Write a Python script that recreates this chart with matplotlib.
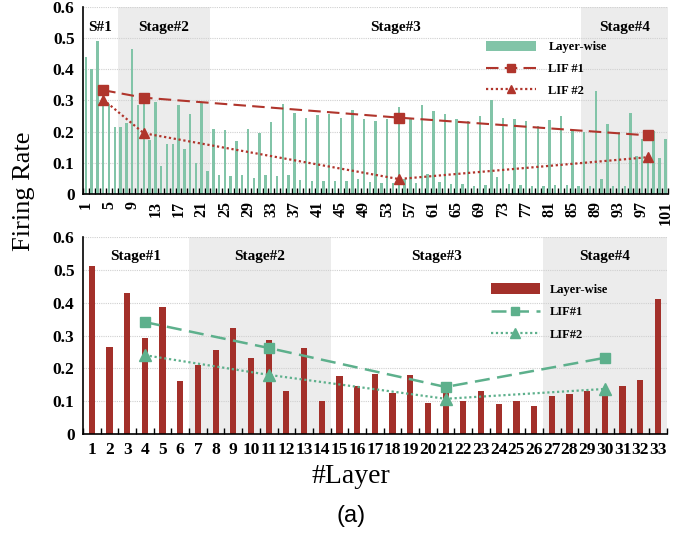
import numpy as np
import matplotlib
matplotlib.use('Agg')
import matplotlib.pyplot as plt
from matplotlib.lines import Line2D
import matplotlib.patches as mpatches

SERIF = ['Liberation Serif', 'DejaVu Serif']
GREEN = '#82C4A8'
GREEN_LINE = '#5DB08C'
RED = '#A3302A'
RED_LINE = '#B0352C'
SHADE = '#ECECEC'

# ---------------------------------------------------------------------------
# Data: top panel (101 layers)
# ---------------------------------------------------------------------------
top_layers = np.arange(1, 102)
top_rates = [
    0.441, 0.401, 0.490, 0.320, 0.288, 0.215, 0.215, 0.227, 0.466, 0.286,
    0.300, 0.174, 0.295, 0.089, 0.159, 0.159, 0.284, 0.144, 0.256, 0.101,
    0.291, 0.075, 0.209, 0.060, 0.205, 0.057, 0.169, 0.060, 0.209, 0.051,
    0.196, 0.060, 0.230, 0.057, 0.288, 0.060, 0.260, 0.045, 0.243, 0.043,
    0.254, 0.043, 0.258, 0.043, 0.244, 0.043, 0.271, 0.048, 0.241, 0.038,
    0.235, 0.034, 0.239, 0.034, 0.280, 0.049, 0.241, 0.034, 0.287, 0.065,
    0.265, 0.040, 0.256, 0.031, 0.241, 0.033, 0.234, 0.027, 0.251, 0.030,
    0.302, 0.054, 0.245, 0.032, 0.240, 0.029, 0.234, 0.026, 0.219, 0.026,
    0.237, 0.030, 0.249, 0.030, 0.206, 0.026, 0.199, 0.026, 0.329, 0.048,
    0.224, 0.026, 0.200, 0.026, 0.260, 0.123, 0.176, 0.125, 0.203, 0.116,
    0.178,
]
top_lif_x = [4, 11, 55, 98]
top_lif1 = [0.333, 0.309, 0.245, 0.188]
top_lif2 = [0.303, 0.195, 0.048, 0.118]
top_ticks = list(range(1, 102, 4))
top_stages = ['S#1', 'Stage#2', 'Stage#3', 'Stage#4']
top_stage_bounds = [(0.5, 6.5), (6.5, 22.5), (22.5, 86.5), (86.5, 101.5)]

# ---------------------------------------------------------------------------
# Data: bottom panel (33 layers)
# ---------------------------------------------------------------------------
bot_layers = np.arange(1, 34)
bot_rates = [
    0.513, 0.264, 0.431, 0.292, 0.388, 0.160, 0.209, 0.255, 0.324, 0.230,
    0.287, 0.131, 0.261, 0.099, 0.178, 0.146, 0.183, 0.125, 0.181, 0.094,
    0.130, 0.100, 0.130, 0.092, 0.100, 0.086, 0.114, 0.122, 0.132, 0.135,
    0.147, 0.165, 0.412,
]
bot_lif_x = [4, 11, 21, 30]
bot_lif1 = [0.341, 0.262, 0.143, 0.232]
bot_lif2 = [0.240, 0.180, 0.107, 0.137]
bot_stages = ['Stage#1', 'Stage#2', 'Stage#3', 'Stage#4']
bot_stage_bounds = [(0.5, 6.5), (6.5, 14.5), (14.5, 26.5), (26.5, 33.5)]


def style_axis(ax, xmax):
    ax.set_ylim(0, 0.6)
    ax.set_xlim(0.5, xmax)
    ax.set_yticks(np.arange(0, 0.61, 0.1))
    ax.set_yticklabels(['0', '0.1', '0.2', '0.3', '0.4', '0.5', '0.6'],
                       fontfamily=SERIF, fontweight='bold', fontsize=12.5)
    ax.tick_params(axis='y', length=0, pad=6)
    for y in np.arange(0.1, 0.61, 0.1):
        ax.axhline(y, color='#D0D0D0', linewidth=0.8, linestyle=(0, (1, 1)),
                   zorder=0.5)
    ax.spines['top'].set_visible(False)
    ax.spines['right'].set_visible(False)
    ax.spines['left'].set_linewidth(1.2)
    ax.spines['bottom'].set_linewidth(1.2)
    ax.set_xticks(np.arange(0.5, xmax + 0.01, 1.0), minor=True)
    ax.tick_params(axis='x', which='minor', direction='in', length=4,
                   width=1.0, color='black')
    ax.tick_params(axis='x', which='major', length=0)
    ax.set_facecolor('white')


def draw_stages(ax, names, bounds, shaded, y_text):
    for name, (a, b), sh in zip(names, bounds, shaded):
        if sh:
            ax.axvspan(a, b, color=SHADE, zorder=0, linewidth=0)
        ax.text((a + b) / 2, y_text, name, ha='center', va='center',
                fontfamily=SERIF, fontweight='bold', fontsize=11, zorder=5)


fig = plt.figure(figsize=(6.91, 5.33), dpi=100)
fig.patch.set_facecolor('white')

# =========================================================================
# Top panel
# =========================================================================
ax1 = fig.add_axes([0.120, 0.636, 0.847, 0.351])
style_axis(ax1, 101.5)
draw_stages(ax1, top_stages, top_stage_bounds, [False, True, False, True], 0.535)
ax1.bar(top_layers, top_rates, width=0.42, color=GREEN, zorder=2)
ax1.plot(top_lif_x, top_lif1, color=RED_LINE, linestyle=(0, (6, 3)),
         linewidth=1.5, marker='s', markersize=7, zorder=4)
ax1.plot(top_lif_x, top_lif2, color=RED_LINE, linestyle=(0, (1, 1.2)),
         linewidth=1.6, marker='^', markersize=7, zorder=4)
ax1.set_xticks(top_ticks)
ax1.set_xticklabels([str(t) for t in top_ticks], rotation=90,
                    fontfamily=SERIF, fontweight='bold', fontsize=11.5)
ax1.tick_params(axis='x', which='major', pad=5)

top_handles = [
    mpatches.Patch(facecolor=GREEN, edgecolor='none'),
    Line2D([], [], color=RED_LINE, linestyle=(0, (6, 3)), linewidth=1.5,
           marker='s', markersize=6),
    Line2D([], [], color=RED_LINE, linestyle=(0, (1, 1.2)), linewidth=1.6,
           marker='^', markersize=6),
]
ax1.legend(top_handles, ['Layer-wise', 'LIF #1', 'LIF #2'],
           loc='upper left', bbox_to_anchor=(0.68, 0.845), frameon=False,
           prop={'family': SERIF, 'weight': 'bold', 'size': 9},
           handlelength=4.0, handleheight=0.9, labelspacing=0.75,
           handletextpad=1.0, borderaxespad=0)

# =========================================================================
# Bottom panel
# =========================================================================
ax2 = fig.add_axes([0.120, 0.186, 0.845, 0.369])
style_axis(ax2, 33.5)
draw_stages(ax2, bot_stages, bot_stage_bounds, [False, True, False, True], 0.54)
ax2.bar(bot_layers, bot_rates, width=0.35, color=RED, zorder=2)
ax2.plot(bot_lif_x, bot_lif1, color=GREEN_LINE, linestyle=(0, (6, 3)),
         linewidth=1.8, marker='s', markersize=7, zorder=4)
ax2.plot(bot_lif_x, bot_lif2, color=GREEN_LINE, linestyle=(0, (1, 1.2)),
         linewidth=1.6, marker='^', markersize=8, zorder=4)
ax2.set_xticks(bot_layers)
ax2.set_xticklabels([str(t) for t in bot_layers], fontfamily=SERIF,
                    fontweight='bold', fontsize=12.5)
ax2.tick_params(axis='x', which='major', pad=6)

bot_handles = [
    mpatches.Patch(facecolor=RED, edgecolor='none'),
    Line2D([], [], color=GREEN_LINE, linestyle=(0, (6, 3)), linewidth=1.8,
           marker='s', markersize=6),
    Line2D([], [], color=GREEN_LINE, linestyle=(0, (1, 1.2)), linewidth=1.6,
           marker='^', markersize=7),
]
ax2.legend(bot_handles, ['Layer-wise', 'LIF#1', 'LIF#2'],
           loc='upper left', bbox_to_anchor=(0.69, 0.79), frameon=False,
           prop={'family': SERIF, 'weight': 'bold', 'size': 9},
           handlelength=3.9, handleheight=0.9, labelspacing=0.8,
           handletextpad=0.8, borderaxespad=0)

# =========================================================================
# Overall labels
# =========================================================================
fig.text(0.035, 0.642, 'Firing Rate', rotation=90, ha='center', va='center',
         fontfamily=SERIF, fontsize=19)
fig.text(0.508, 0.106, '#Layer', ha='center', va='center',
         fontfamily=SERIF, fontsize=20)
fig.text(0.508, 0.031, '(a)', ha='center', va='center',
         fontfamily=['Liberation Sans', 'DejaVu Sans'], fontsize=17)

fig.savefig('out.png', dpi=100, facecolor='white')
plt.close(fig)
